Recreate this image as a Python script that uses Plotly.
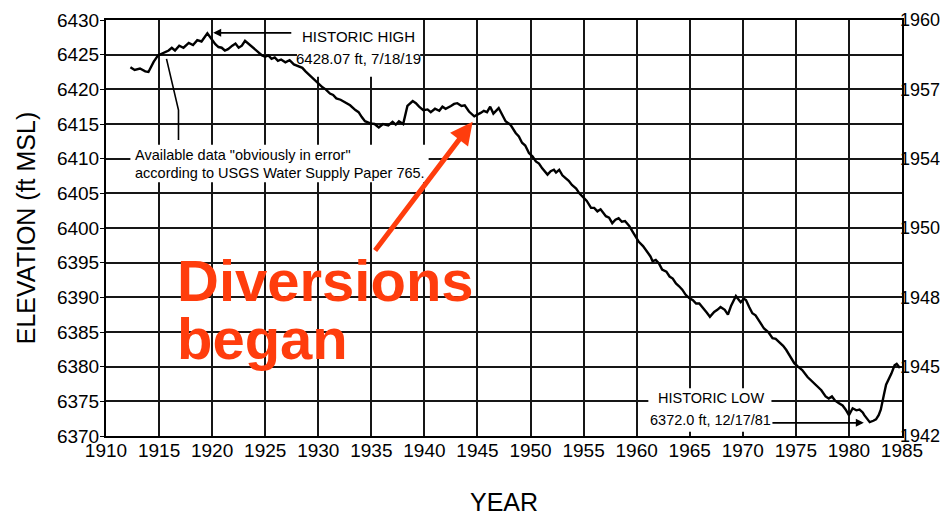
import plotly.graph_objects as go

# ---- data ----
years = [1912.3, 1912.7, 1913.2, 1913.7, 1914.0, 1914.5, 1914.9, 1915.4, 1915.9, 1916.2,
         1916.5, 1916.9, 1917.3, 1917.8, 1918.2, 1918.6, 1919.0, 1919.55, 1919.9, 1920.3,
         1920.6, 1920.9, 1921.2, 1921.5, 1921.9, 1922.2, 1922.5, 1922.8, 1923.1, 1923.4,
         1923.7, 1924.0, 1924.3, 1924.7, 1925.0, 1925.3, 1925.6, 1925.9, 1926.2, 1926.5,
         1926.9, 1927.3, 1927.7, 1928.1, 1928.5, 1928.8, 1929.2, 1929.7, 1930.0, 1930.4,
         1930.7, 1931.1, 1931.4, 1931.7, 1932.1, 1932.6, 1933.0, 1933.5, 1933.8, 1934.1,
         1934.4, 1934.9, 1935.3, 1935.7, 1936.1, 1936.6, 1937.0, 1937.3, 1937.6, 1938.0,
         1938.2, 1938.4, 1938.9, 1939.2, 1939.5, 1939.9, 1940.3, 1940.6, 1941.0, 1941.4,
         1941.7, 1942.0, 1942.5, 1942.8, 1943.1, 1943.5, 1943.8, 1944.2, 1944.7, 1945.0,
         1945.3, 1945.6, 1945.9, 1946.2, 1946.5, 1947.0, 1947.3, 1947.65, 1948.1, 1948.6,
         1948.9, 1949.2, 1949.5, 1949.85, 1950.2, 1950.5, 1950.8, 1951.1, 1951.6, 1951.9,
         1952.2, 1952.4, 1952.7, 1953.0, 1953.3, 1953.6, 1953.9, 1954.3, 1954.6, 1955.0,
         1955.3, 1955.7, 1956.0, 1956.3, 1956.6, 1957.1, 1957.4, 1957.7, 1958.0, 1958.3,
         1958.6, 1958.9, 1959.3, 1959.6, 1960.2, 1960.6, 1960.9, 1961.3, 1961.5, 1961.8,
         1962.1, 1962.4, 1962.8, 1963.1, 1963.4, 1963.7, 1964.0, 1964.3, 1964.6, 1964.95,
         1965.3, 1965.6, 1965.9, 1966.2, 1966.6, 1966.9, 1967.3, 1967.6, 1967.9, 1968.3,
         1968.6, 1968.9, 1969.35, 1969.6, 1969.8, 1970.1, 1970.3, 1970.6, 1970.9, 1971.2,
         1971.5, 1971.8, 1972.0, 1972.4, 1972.8, 1973.1, 1973.4, 1973.8, 1974.1, 1974.4,
         1974.85, 1975.2, 1975.6, 1976.1, 1976.6, 1977.0, 1977.4, 1977.8, 1978.1, 1978.4,
         1978.7, 1979.1, 1979.4, 1979.7, 1980.0, 1980.35, 1980.7, 1981.0, 1981.3, 1981.45,
         1981.96, 1982.3, 1982.55, 1982.8, 1983.0, 1983.3, 1983.5, 1984.0, 1984.3, 1984.5,
         1984.8]
elevation = [6423.2, 6422.8, 6423.0, 6422.6, 6422.5, 6424.0, 6424.9, 6425.3, 6425.6, 6426.0,
             6425.6, 6426.3, 6426.0, 6426.7, 6426.4, 6427.1, 6426.9, 6428.07, 6427.3, 6426.5,
             6426.1, 6426.0, 6425.6, 6425.8, 6426.3, 6426.6, 6426.0, 6426.3, 6427.0, 6426.6,
             6426.2, 6425.9, 6425.4, 6424.9, 6424.7, 6424.9, 6424.4, 6424.6, 6424.1, 6424.3,
             6423.9, 6424.2, 6423.6, 6423.4, 6423.1, 6422.6, 6422.0, 6421.2, 6420.9, 6420.3,
             6420.0, 6419.4, 6419.2, 6418.7, 6418.5, 6418.0, 6417.7, 6417.0, 6416.7, 6416.0,
             6415.4, 6415.1, 6415.0, 6414.5, 6415.0, 6414.8, 6415.3, 6414.9, 6415.4, 6415.0,
             6416.5, 6417.6, 6418.3, 6418.0, 6417.5, 6417.0, 6417.1, 6416.7, 6417.2, 6416.9,
             6417.5, 6417.2, 6417.6, 6417.9, 6418.0, 6417.6, 6417.7, 6416.8, 6416.1, 6416.3,
             6416.6, 6416.9, 6416.7, 6417.5, 6416.5, 6417.3, 6416.5, 6415.4, 6414.9, 6413.7,
             6413.2, 6412.3, 6411.9, 6410.8, 6410.3, 6409.6, 6409.3, 6408.6, 6407.7, 6408.2,
             6408.4, 6408.0, 6408.4, 6407.6, 6407.2, 6406.8, 6406.2, 6405.7, 6405.0, 6404.3,
             6403.9, 6402.9, 6402.9, 6402.4, 6402.7, 6401.7, 6401.5, 6400.7, 6401.2, 6401.4,
             6400.9, 6401.0, 6400.3, 6399.5, 6398.0, 6397.4, 6396.8, 6395.9, 6395.2, 6395.4,
             6394.9, 6394.0, 6393.7, 6393.0, 6392.7, 6392.0, 6391.6, 6391.1, 6390.4, 6389.9,
             6389.6, 6389.1, 6389.1, 6388.6, 6387.8, 6387.2, 6387.9, 6388.2, 6388.6, 6388.2,
             6387.5, 6388.8, 6390.2, 6389.7, 6389.3, 6389.8, 6389.6, 6388.6, 6387.7, 6387.4,
             6386.7, 6386.0, 6385.5, 6385.0, 6384.1, 6384.0, 6383.6, 6383.0, 6382.4, 6381.7,
             6380.5, 6380.0, 6379.5, 6378.5, 6377.8, 6377.1, 6376.6, 6375.7, 6375.4, 6375.7,
             6375.1, 6374.7, 6374.4, 6373.8, 6373.0, 6374.0, 6373.7, 6373.8, 6373.4, 6373.0,
             6372.0, 6372.2, 6372.4, 6373.0, 6373.8, 6376.0, 6377.4, 6379.0, 6380.2, 6380.4,
             6379.8]

x_ticks = list(range(1910, 1986, 5))
y_ticks = list(range(6370, 6431, 5))
right_tickvals = [6370, 6380, 6390, 6400, 6410, 6420, 6430]
right_ticktext = ["1942", "1945", "1948", "1950", "1954", "1957", "1960"]

SANS = "Liberation Sans, Arial, sans-serif"
GRID = "#161616"
RED = "#ff3d0d"

fig = go.Figure()
fig.add_trace(go.Scatter(x=years, y=elevation, mode="lines",
                         line=dict(color="black", width=2.4),
                         hoverinfo="skip", showlegend=False))
fig.add_trace(go.Scatter(x=[years[0]], y=[elevation[0]], mode="markers",
                         marker=dict(opacity=0), yaxis="y2",
                         hoverinfo="skip", showlegend=False))

fig.update_layout(
    width=948, height=516,
    margin=dict(l=98, r=54, t=12, b=88),
    paper_bgcolor="white", plot_bgcolor="white",
    font=dict(family=SANS, color="black", size=19),
    xaxis=dict(range=[1910, 1985], tickvals=x_ticks, showgrid=True,
               gridcolor=GRID, gridwidth=2.4, zeroline=False, automargin=False,
               showline=True, linecolor="black", linewidth=2, mirror=True,
               ticks="", tickangle=0, ticklabelstandoff=-4,
               tickfont=dict(family=SANS, size=19),
               title=dict(text="YEAR", font=dict(family=SANS, size=25), standoff=34)),
    yaxis=dict(range=[6370, 6430], tickvals=y_ticks, showgrid=True,
               gridcolor=GRID, gridwidth=2.4, zeroline=False, automargin=False,
               showline=True, linecolor="black", linewidth=2, mirror=True,
               ticks="outside", ticklen=4, tickcolor="black", ticklabelstandoff=-3,
               tickfont=dict(family=SANS, size=19),
               title=dict(text="ELEVATION (ft MSL)",
                          font=dict(family=SANS, size=25), standoff=14)),
    yaxis2=dict(range=[6370, 6430], overlaying="y", side="right",
                tickvals=right_tickvals, ticktext=right_ticktext, automargin=False,
                showgrid=False, zeroline=False, showline=False, ticks="",
                ticklabelstandoff=-3,
                tickfont=dict(family=SANS, size=18)),
)

ann_font = dict(family=SANS, size=15)
annotations = [
    # Historic high
    dict(x=1933.8, y=6427.55, xref="x", yref="y", text="HISTORIC HIGH",
         showarrow=False, font=ann_font),
    dict(x=1933.8, y=6424.5, xref="x", yref="y", text="6428.07 ft, 7/18/19",
         showarrow=False, font=ann_font),
    dict(x=1920.1, y=6428.15, ax=1927.6, ay=6428.15, xref="x", yref="y",
         axref="x", ayref="y", text="", showarrow=True,
         arrowhead=2, arrowsize=1, arrowwidth=1.6, arrowcolor="black"),
    # obviously in error note
    dict(x=1912.55, y=6410.5, xref="x", yref="y",
         text="Available data \"obviously in error\"",
         showarrow=False, xanchor="left", font=dict(family=SANS, size=14.5)),
    dict(x=1912.55, y=6407.95, xref="x", yref="y",
         text="according to USGS Water Supply Paper 765.",
         showarrow=False, xanchor="left", font=dict(family=SANS, size=14.5)),
    # Historic low
    dict(x=1967.0, y=6375.5, xref="x", yref="y", text="HISTORIC LOW",
         showarrow=False, font=dict(family=SANS, size=14.5)),
    dict(x=1967.0, y=6372.3, xref="x", yref="y", text="6372.0 ft, 12/17/81",
         showarrow=False, font=dict(family=SANS, size=14.5)),
    dict(x=1981.4, y=6371.9, ax=1972.65, ay=6371.9, xref="x", yref="y",
         axref="x", ayref="y", text="", showarrow=True,
         arrowhead=2, arrowsize=1, arrowwidth=1.6, arrowcolor="black"),
    # Diversions began
    dict(x=1944.55, y=6415.33, ax=1935.25, ay=6396.54, xref="x", yref="y",
         axref="x", ayref="y", text="", showarrow=True,
         arrowhead=2, arrowsize=0.9, arrowwidth=5, arrowcolor=RED),
    dict(x=1916.5, y=6392.5, xref="x", yref="y", text="<b>Diversions</b>",
         showarrow=False, xanchor="left", yanchor="middle",
         font=dict(family=SANS, size=58, color=RED)),
    dict(x=1916.5, y=6384.0, xref="x", yref="y", text="<b>began</b>",
         showarrow=False, xanchor="left", yanchor="middle",
         font=dict(family=SANS, size=58, color=RED)),
]
fig.update_layout(annotations=annotations)

# white masks that hide the grid behind the text blocks (drawn beneath the data line)
masks = [
    (1928.0, 1939.6, 6421.8, 6430.0),
    (1912.3, 1940.4, 6406.6, 6412.0),
    (1961.1, 1972.7, 6370.6, 6376.9),
]
for x0, x1, y0, y1 in masks:
    fig.add_shape(type="rect", xref="x", yref="y", x0=x0, x1=x1, y0=y0, y1=y1,
                  fillcolor="white", line=dict(width=0), layer="between")

# leader line for "obviously in error" note
fig.add_shape(type="path", xref="x", yref="y",
              path="M 1916.83 6412.7 L 1916.83 6417.0 L 1915.7 6424.4",
              line=dict(color="black", width=1.6))

fig.write_html("out.html")
